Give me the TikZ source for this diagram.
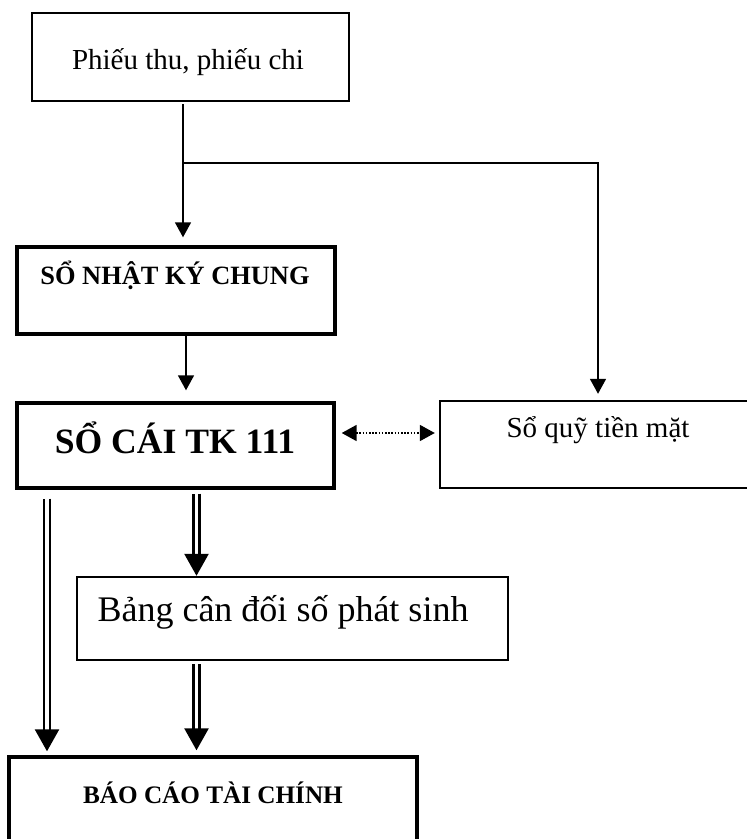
\documentclass[tikz,border=0pt]{standalone}
\usepackage{fontspec}
\setmainfont{Liberation Serif}
\usetikzlibrary{arrows.meta}

\begin{document}
\begin{tikzpicture}[x=0.5pt, y=-0.5pt,
    box/.style={draw, rectangle, line width=1.2pt, inner sep=0pt},
    boldbox/.style={box, line width=1.7pt},
    arrow/.style={line width=0.8pt, -{Triangle[length=7.5pt, width=8pt]}},
    dotarrow/.style={line width=0.9pt, dash pattern=on 0.8pt off 0.8pt, {Triangle[length=7.5pt, width=8pt]}-{Triangle[length=7.5pt, width=8pt]}},
    dblarrow/.style={line width=1.3pt, double, double distance=1.6pt, -{Triangle[length=11pt, width=12pt]}}]
    \useasboundingbox (0,0) rectangle (747,839);

    % Boxes
    \node[box, minimum width=158.5pt, minimum height=44pt] (phieu) at (190.5,57) {};
    \node[boldbox, minimum width=159pt, minimum height=43.5pt] (snkc) at (176,290.5) {};
    \node[boldbox, minimum width=158.5pt, minimum height=42.5pt] (socai) at (175.5,445.5) {};
    \node[box, minimum width=158pt, minimum height=43.5pt] (soquy) at (598,444.5) {};
    \node[box, minimum width=215.5pt, minimum height=41.5pt] (bang) at (292.5,618.5) {};
    \node[boldbox, minimum width=204pt, minimum height=44pt] (bctc) at (213,801) {};

    % Texts
    \node[font=\fontsize{14.5}{17}\selectfont] (phieutxt) at (188,62) {Phiếu thu, phiếu chi};
    \node[font=\fontsize{13.2}{16}\selectfont\bfseries] (snkctxt) at (175,275) {SỔ NHẬT KÝ CHUNG};
    \node[font=\fontsize{17.8}{21}\selectfont\bfseries] (socaitxt) at (175,438) {SỔ CÁI TK 111};
    \node[font=\fontsize{14.5}{17}\selectfont] (soquytxt) at (598,430) {Sổ quỹ tiền mặt};
    \node[font=\fontsize{18}{21}\selectfont] (bangtxt) at (283,612) {Bảng cân đối số phát sinh};
    \node[font=\fontsize{12.6}{15}\selectfont\bfseries] (bctctxt) at (213,793) {BÁO CÁO TÀI CHÍNH};

    % Split point and guide coordinates
    \coordinate (split) at (183,163);
    \coordinate (corner) at (598,163);
    \coordinate (sncol) at (186,0);
    \coordinate (dotrow) at (0,433);
    \coordinate (dleft) at (47,0);
    \coordinate (dmid) at (196.5,0);

    % Arrows
    \draw[line width=0.8pt] ([yshift=-1pt]phieu.south -| split) -- (split);
    \draw[arrow, shorten >=4pt] (split) -- (split |- snkc.north);
    \draw[arrow, shorten >=3pt] (split) -- (corner) -- (corner |- soquy.north);
    \draw[arrow, shorten >=5.5pt] (snkc.south -| sncol) -- (socai.north -| sncol);
    \draw[dotarrow, shorten <=3pt, shorten >=2pt] (socai.east |- dotrow) -- (soquy.west |- dotrow);
    \draw[dblarrow, shorten <=4.5pt, shorten >=2pt] (socai.south -| dleft) -- (bctc.north -| dleft);
    \draw[dblarrow, shorten <=2pt] (socai.south -| dmid) -- (bang.north -| dmid);
    \draw[dblarrow, shorten <=1.5pt, shorten >=2.5pt] (bang.south -| dmid) -- (bctc.north -| dmid);
\end{tikzpicture}
\end{document}
